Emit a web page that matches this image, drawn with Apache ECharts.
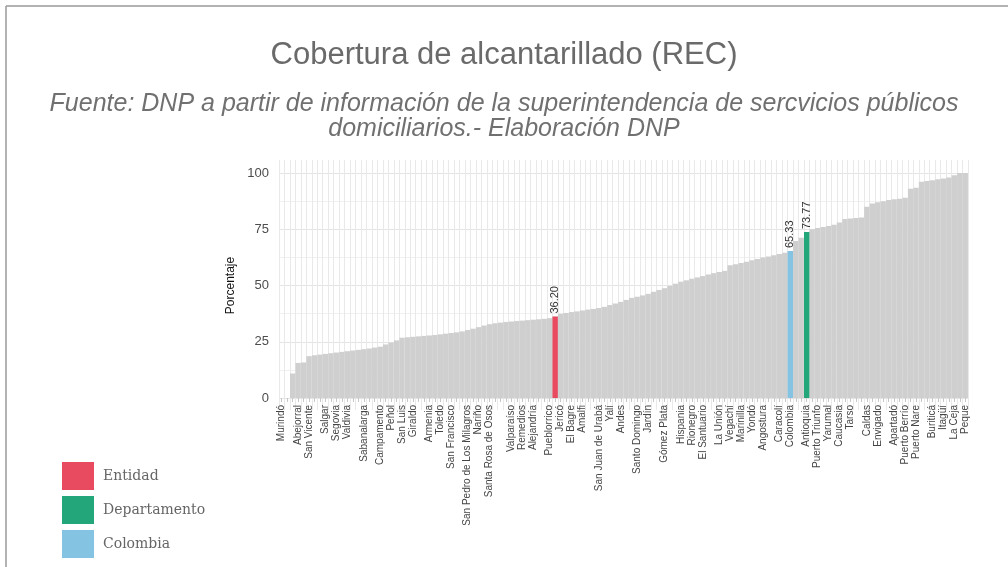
<!DOCTYPE html>
<html>
<head>
<meta charset="utf-8">
<title>Cobertura de alcantarillado (REC)</title>
<script src="https://cdn.jsdelivr.net/npm/echarts@6/dist/echarts.min.js"></script>
<style>
  html, body { margin: 0; padding: 0; background: #fff; }
  #chart { width: 1008px; height: 567px; }
</style>
</head>
<body>
<div id="chart"></div>
<script>
// municipios ordenados por cobertura (más Colombia y Antioquia)
var categorias = [
    'Murindó', 'Vigía del Fuerte', 'Nechí', 'Abejorral', 'Abriaquí', 'San Vicente', 'Anorí', 'Argelia',
    'Salgar', 'Briceño', 'Segovia', 'Caicedo', 'Valdivia', 'Cañasgordas', 'Caramanta', 'Sabanalarga',
    'Carolina', 'Cisneros', 'Campamento', 'Cocorná', 'Peñol', 'Concepción', 'San Luis', 'Dabeiba',
    'Giraldo', 'Ebéjico', 'Entrerríos', 'Armenia', 'Frontino', 'Toledo', 'Granada', 'San Francisco',
    'Guadalupe', 'Heliconia', 'San Pedro de Los Milagros', 'Ituango', 'Nariño', 'La Pintada',
    'Santa Rosa de Osos', 'Liborina', 'Maceo', 'Montebello', 'Valparaíso', 'Mutatá', 'Remedios',
    'Necoclí', 'Alejandría', 'Olaya', 'Arboletes', 'Pueblorrico', 'San Andrés de Cuerquía', 'Jericó',
    'San Carlos', 'El Bagre', 'San Jerónimo', 'Amalfi', 'San José de la Montaña', 'San Pedro de Urabá',
    'San Juan de Urabá', 'San Rafael', 'Yalí', 'San Roque', 'Andes', 'Santa Bárbara', 'Sonsón',
    'Santo Domingo', 'Sopetrán', 'Jardín', 'Támesis', 'Tarazá', 'Gómez Plata', 'Titiribí', 'Turbo',
    'Hispania', 'Uramita', 'Rionegro', 'Urrao', 'El Santuario', 'Venecia', 'Yolombó', 'La Unión',
    'Zaragoza', 'Vegachí', 'Betulia', 'Marinilla', 'Ciudad Bolívar', 'Yondó', 'Cáceres', 'Angostura',
    'Carepa', 'Chigorodó', 'Caracolí', 'Concordia', 'Colombia', 'Angelópolis', 'Anzá', 'Antioquia',
    'Santa Fe de Antioquia', 'Puerto Triunfo', 'Belmira', 'Yarumal', 'Donmatías', 'Caucasia', 'Fredonia',
    'Tarso', 'Guatapé', 'Amagá', 'Caldas', 'Girardota', 'Envigado', 'Guarne', 'El Carmen de Viboral',
    'Apartadó', 'Barbosa', 'Puerto Berrío', 'Copacabana', 'Puerto Nare', 'La Estrella', 'Retiro',
    'Buriticá', 'Bello', 'Itagüí', 'Sabaneta', 'La Ceja', 'Medellín', 'Peque'
];

var valores = [
    0, 0, 10.9, 15.6, 15.8, 18.6, 19.0, 19.3, 19.6, 19.9, 20.2, 20.5, 20.8, 21.1, 21.4, 21.7,
    22.0, 22.4, 22.8, 23.8, 24.6, 25.6, 26.8, 27.0, 27.2, 27.4, 27.6, 27.8, 28.0, 28.3, 28.6, 28.9,
    29.2, 29.6, 30.2, 30.8, 31.5, 32.2, 32.8, 33.2, 33.5, 33.8, 34.0, 34.2, 34.4, 34.6, 34.8, 35.0,
    35.2, 35.5, 36.20, 37.4, 37.8, 38.2, 38.5, 38.9, 39.3, 39.6, 40.0, 40.5, 41.3, 42.0, 42.7, 43.6,
    44.5, 45.0, 45.6, 46.3, 47.2, 48.0, 48.8, 49.8, 50.8, 51.7, 52.3, 53.0, 53.6, 54.2, 54.9, 55.5,
    56.0, 56.5, 59.0, 59.4, 60.0, 60.6, 61.2, 61.8, 62.4, 62.9, 63.5, 64.0, 64.6, 65.33, 69.8, 71.2,
    73.77, 75.0, 75.6, 76.0, 76.5, 77.0, 78.0, 79.6, 79.8, 80.0, 80.2, 85.0, 86.5, 87.0, 87.5, 88.0,
    88.3, 88.6, 89.0, 93.0, 93.5, 96.1, 96.5, 96.8, 97.2, 97.6, 98.0, 99.0, 100, 100
];

// etiquetas visibles en el eje x
var etiquetasVisibles = [
    'Murindó', 'Abejorral', 'San Vicente', 'Salgar', 'Segovia', 'Valdivia', 'Sabanalarga', 'Campamento',
    'Peñol', 'San Luis', 'Giraldo', 'Armenia', 'Toledo', 'San Francisco', 'San Pedro de Los Milagros',
    'Nariño', 'Santa Rosa de Osos', 'Valparaíso', 'Remedios', 'Alejandría', 'Pueblorrico', 'Jericó',
    'El Bagre', 'Amalfi', 'San Juan de Urabá', 'Yalí', 'Andes', 'Santo Domingo', 'Jardín', 'Gómez Plata',
    'Hispania', 'Rionegro', 'El Santuario', 'La Unión', 'Vegachí', 'Marinilla', 'Yondó', 'Angostura',
    'Caracolí', 'Colombia', 'Antioquia', 'Puerto Triunfo', 'Yarumal', 'Caucasia', 'Tarso', 'Caldas',
    'Envigado', 'Apartadó', 'Puerto Berrío', 'Puerto Nare', 'Buriticá', 'Itagüí', 'La Ceja', 'Peque'
];

var yTicks = [0, 25, 50, 75, 100];

var titulo = 'Cobertura de alcantarillado (REC)';
var fuente = ['Fuente: DNP a partir de información de la superintendencia de sercvicios públicos',
              'domiciliarios.- Elaboración DNP'];

var entidad = 'San Andrés de Cuerquía';
var departamento = 'Antioquia';
var pais = 'Colombia';

var colorGris = '#cfcfcf';
var colorEntidad = '#e84a5f';
var colorDepto = '#22a67a';
var colorPais = '#85c3e2';

var myechart = echarts.init(document.getElementById('chart'));

function soloUno(nombre) {
    var arr = [];
    for (var i = 0; i < categorias.length; i++) {
        arr.push(categorias[i] === nombre ? valores[i] : null);
    }
    return arr;
}

function serieResaltada(nombre, cat, color) {
    return {
        name: nombre,
        type: 'bar',
        barGap: '-100%',
        barCategoryGap: '2%',
        itemStyle: { color: color },
        label: {
            show: true,
            position: 'top',
            rotate: 90,
            align: 'left',
            verticalAlign: 'middle',
            distance: 3,
            fontSize: 11,
            color: '#333',
            fontFamily: 'Liberation Sans',
            formatter: function (p) { return p.value == null ? '' : p.value.toFixed(2); }
        },
        data: soloUno(cat)
    };
}

// estilo del subtitulo (cursiva)
var estiloFuente = { fontSize: 25, fontStyle: 'italic', fontWeight: 'normal', color: '#707070', fontFamily: 'Liberation Sans' };

var options = {
    animation: false,
    backgroundColor: '#fff',
    title: [
        {
            text: titulo,
            left: 'center',
            top: 35,
            textStyle: { fontSize: 31, fontWeight: 'normal', color: '#6a6a6a', fontFamily: 'Liberation Sans' }
        },
        { text: fuente[0], left: 'center', top: 92, padding: 0, textStyle: estiloFuente },
        { text: fuente[1], left: 'center', top: 117, padding: 0, textStyle: estiloFuente }
    ],
    legend: {
        orient: 'vertical',
        left: 62,
        top: 462,
        padding: 0,
        itemWidth: 32,
        itemHeight: 28,
        itemGap: 6,
        icon: 'rect',
        data: ['Entidad', 'Departamento', 'Colombia'],
        textStyle: { fontSize: 14, color: '#666', fontFamily: 'DejaVu Serif', padding: [0, 0, 0, 4] }
    },
    graphic: [
        { type: 'line', shape: { x1: 6, y1: 6, x2: 1008, y2: 6 }, style: { stroke: '#9a9a9a', lineWidth: 1.5 } },
        { type: 'line', shape: { x1: 6, y1: 6, x2: 6, y2: 567 }, style: { stroke: '#9a9a9a', lineWidth: 1.5 } }
    ],
    grid: [
        { left: 279, right: 40, top: 173, bottom: 169 },
        { left: 279, right: 40, top: 160, bottom: 157 }
    ],
    xAxis: [
        {
            type: 'category',
            gridIndex: 0,
            data: categorias,
            axisLine: { show: false },
            axisTick: { show: true, interval: 0, alignWithLabel: true, length: 4, lineStyle: { color: '#c8c8c8' } },
            splitLine: { show: false },
            axisLabel: {
                rotate: 90,
                margin: 7,
                fontSize: 10,
                color: '#444',
                fontFamily: 'Liberation Sans',
                interval: function (index, value) { return etiquetasVisibles.indexOf(value) >= 0; }
            }
        },
        {
            type: 'category',
            gridIndex: 1,
            data: categorias,
            axisLine: { show: false },
            axisTick: { show: false },
            axisLabel: { show: false },
            splitLine: { show: true, interval: 0, lineStyle: { color: '#e9e9e9', width: 1 } }
        }
    ],
    yAxis: [
        {
            type: 'value',
            gridIndex: 0,
            min: yTicks[0],
            max: yTicks[yTicks.length - 1],
            interval: 25,
            name: 'Porcentaje',
            nameLocation: 'middle',
            nameGap: 42,
            nameTextStyle: { fontSize: 12, color: '#111', fontFamily: 'Liberation Sans' },
            axisLine: { show: false },
            axisTick: { show: false },
            axisLabel: { fontSize: 13, color: '#4d4d4d', margin: 10, fontFamily: 'Liberation Sans' },
            splitLine: { show: true, lineStyle: { color: '#e4e4e4' } },
            minorTick: { show: false, splitNumber: 2 },
            minorSplitLine: { show: true, lineStyle: { color: '#f0f0f0' } }
        },
        { type: 'value', gridIndex: 1, show: false, min: 0, max: 1 }
    ],
    series: [
        {
            name: 'Municipios',
            type: 'bar',
            barGap: '-100%',
            barCategoryGap: '2%',
            itemStyle: { color: colorGris },
            data: valores
        },
        serieResaltada('Entidad', entidad, colorEntidad),
        serieResaltada('Departamento', departamento, colorDepto),
        serieResaltada('Colombia', pais, colorPais)
    ]
};
myechart.setOption(options);
</script>
</body>
</html>
